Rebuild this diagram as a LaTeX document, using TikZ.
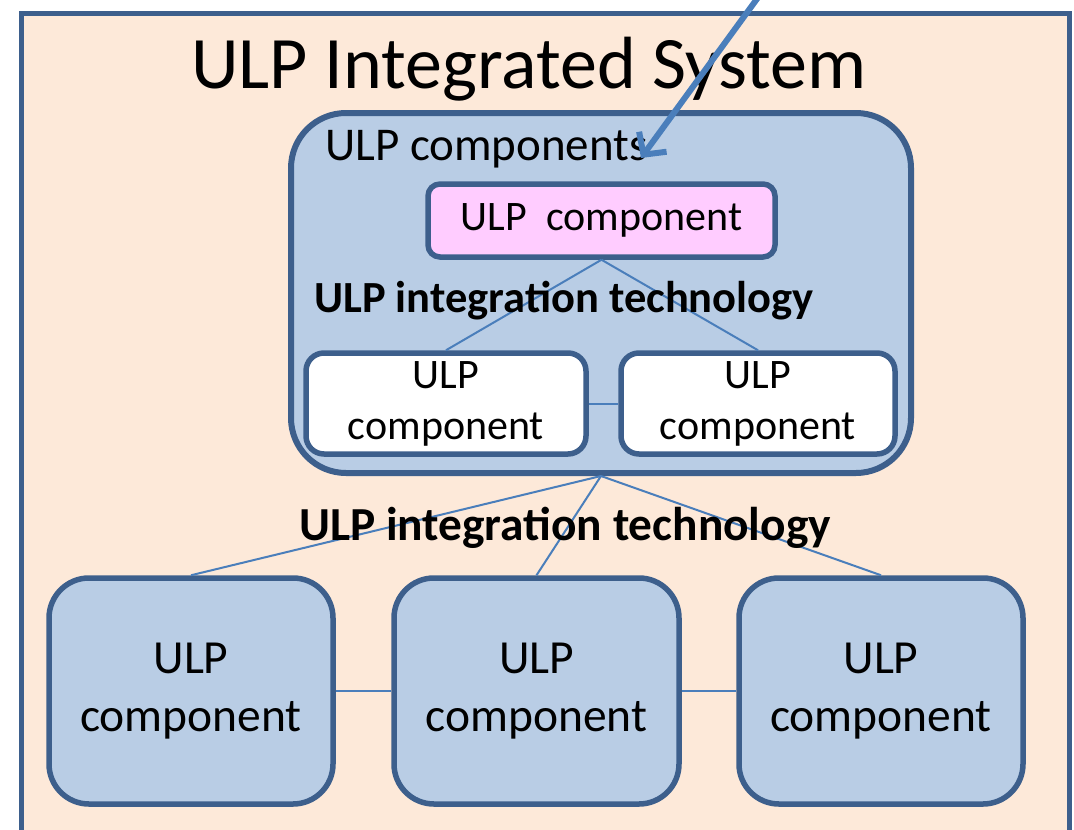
\documentclass[tikz,border=0pt]{standalone}
\usepackage{fontspec}
\setmainfont{Carlito}
\usetikzlibrary{arrows.meta}
\definecolor{peach}{HTML}{FDE9D9}
\definecolor{edgeblue}{HTML}{3D5F8C}
\definecolor{boxblue}{HTML}{B9CDE5}
\definecolor{pinkfill}{HTML}{FFCCFF}
\definecolor{linkblue}{HTML}{4A7EBB}
\definecolor{arrowblue}{HTML}{4A7EBB}
\tikzset{
  frame/.style={draw=edgeblue, line width=5pt, fill=peach, rectangle, inner sep=0pt},
  container/.style={draw=edgeblue, line width=6pt, fill=boxblue, rectangle, rounded corners=55pt, inner sep=0pt},
  pinkbox/.style={draw=edgeblue, line width=5.5pt, fill=pinkfill, rectangle, rounded corners=12pt, inner sep=0pt, font=\fontsize{42}{50}\selectfont},
  whitebox/.style={draw=edgeblue, line width=5.5pt, fill=white, rectangle, rounded corners=18pt, inner sep=0pt, align=center, font=\fontsize{42}{51}\selectfont},
  bigbox/.style={draw=edgeblue, line width=5.5pt, fill=boxblue, rectangle, rounded corners=40pt, inner sep=0pt, align=center, font=\fontsize{47.5}{58}\selectfont},
  link/.style={draw=linkblue, line width=2pt},
  lbl/.style={inner sep=0pt, anchor=base},
  pointer/.style={draw=arrowblue, line width=6pt, line cap=round, -{Straight Barb[length=16pt,width=34pt,line width=6pt]}},
}
\begin{document}
\begin{tikzpicture}[x=1pt,y=-1pt]
\useasboundingbox (0,0) rectangle (1074,830);
\begin{scope}
\clip (0,0) rectangle (1074,830);
\node[frame, minimum width=1048pt, minimum height=850pt, anchor=north west] (sys) at (19,11) {};
\end{scope}
\node[lbl, font=\fontsize{74}{80}\selectfont] (title) at (529,88) {ULP Integrated System};
% container
\node[container, minimum width=620pt, minimum height=360pt] (comp) at (601,293) {};
\node[lbl, anchor=base west, font=\fontsize{47}{52}\selectfont] (complbl) at (325,160) {ULP components};
% pink box
\node[pinkbox, minimum width=347pt, minimum height=73pt] (pink) at (601.5,220.5) {ULP\ \ component};
% white boxes
\node[whitebox, minimum width=280pt, minimum height=101pt] (wl) at (446,403.5) {ULP\\component};
\node[whitebox, minimum width=274pt, minimum height=101pt] (wr) at (758,403.5) {ULP\\component};
% inner links
\draw[link] (pink.south) -- (wl.north);
\draw[link] (pink.south) -- (wr.north);
\draw[link] (wl.east) -- (wr.east -| wr.west);
\node[lbl, font=\bfseries\fontsize{44.5}{50}\selectfont] (tech1) at (564,312) {ULP integration technology};
% bottom boxes
\node[bigbox, minimum width=284pt, minimum height=226pt] (b1) at (191,691) {ULP\\component};
\node[bigbox, minimum width=285pt, minimum height=226pt] (b2) at (536.5,691) {ULP\\component};
\node[bigbox, minimum width=284pt, minimum height=226pt] (b3) at (881,691) {ULP\\component};
\draw[link] (comp.south) -- (b1.north);
\draw[link] (comp.south) -- (b2.north);
\draw[link] (comp.south) -- (b3.north);
\draw[link] (b1.east) -- (b2.west);
\draw[link] (b2.east) -- (b3.west);
\node[lbl, font=\bfseries\fontsize{47.4}{54}\selectfont] (tech2) at (565,540) {ULP integration technology};
% arrow
\coordinate (src) at (762,-8);
\coordinate (tip) at (641,158);
\draw[pointer] (src) -- (tip);
\end{tikzpicture}
\end{document}
